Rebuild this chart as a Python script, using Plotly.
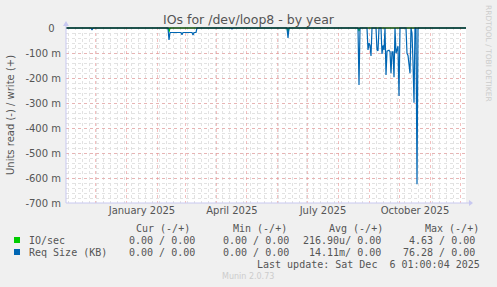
import plotly.graph_objects as go
from datetime import datetime, timedelta

# ---- data (values in milli-units, negative = read) ----
base = datetime(2024, 11, 1, 1, 0)
# day offsets from 2024-11-01 and Req Size (KB) values (m)
req_days = [0, 25, 26, 27,
            102, 103, 104, 115, 116, 117, 126, 127, 128, 130, 131,
            165, 166, 167,
            221, 222, 223,
            292, 293, 294,
            301, 302, 303, 304, 305, 306,
            310, 311, 312, 313,
            315, 316, 317, 318, 319, 320, 321, 322, 323, 324, 325, 326, 327, 328,
            329, 330, 331, 332, 333, 334,
            340, 341, 342, 343, 344, 345, 346, 347, 348, 349, 350, 351, 352,
            400]
req_vals = [0, 0, -8, 0,
            0, -48, -18, -18, -27, -18, -18, -28, -18, -18, 0,
            0, -4, 0,
            0, -40, 0,
            0, -228, 0,
            0, -88, -60, -70, -112, 0,
            0, -88, -91, 0,
            0, -104, -70, -88, 0, -188, -93, -90, -89, -95, -181, -95, -95, -197,
            0, -101, -80, -73, -272, 0,
            0, -101, -110, -141, -181, 0, -20, -138, -299, 0, 0, -625, 0,
            0]
io_days = [0, 102, 103, 104, 221, 222, 223, 292, 293, 294, 400]
io_vals = [0, 0, -15, 0, 0, -18, 0, 0, -12, 0, 0]

zero_days = [0, 400]
zero_vals = [0, 0]

y_ticks = [0, -100, -200, -300, -400, -500, -600, -700]
y_ticktext = ["0\u00a0\u00a0", "-100 m", "-200 m", "-300 m", "-400 m", "-500 m", "-600 m", "-700 m"]
x_label_dates = ["2025-01-16", "2025-04-16", "2025-07-16", "2025-10-16"]
x_label_text = ["January 2025", "April 2025", "July 2025", "October 2025"]

legend_names = ["IO/sec", "Req Size (KB)"]
legend_colors = ["#00cc00", "#0066b3"]
cur_vals = ["0.00 / 0.00", "0.00 / 0.00"]
min_vals = ["0.00 / 0.00", "0.00 / 0.00"]
avg_vals = ["216.90u/ 0.00", "14.11m/ 0.00"]
max_vals = ["4.63 / 0.00", "76.28 / 0.00"]


def d(off):
    return base + timedelta(days=off)


W_FIG, H_FIG = 497, 287
L, PW, T, PH = 66, 400, 27, 176


def px(x):
    return (x - L) / PW


def py(y):
    return (T + PH - y) / PH


fig = go.Figure()
fig.add_trace(go.Scatter(x=[d(o) for o in io_days], y=io_vals, mode="lines",
                         line=dict(color="#00cc00", width=1.2), hoverinfo="skip"))
fig.add_trace(go.Scatter(x=[d(o) for o in req_days], y=req_vals, mode="lines",
                         line=dict(color="#0066b3", width=1.2), hoverinfo="skip"))
fig.add_trace(go.Scatter(x=[d(o) for o in zero_days], y=zero_vals, mode="lines",
                         line=dict(color="#000000", width=1), hoverinfo="skip",
                         xaxis="x2"))

major_grid = "rgba(235,150,150,0.6)"
minor_grid = "#e2e2e2"
rng = [d(0), d(400)]
fig.update_layout(
    width=W_FIG, height=H_FIG,
    margin=dict(l=L, r=W_FIG - L - PW, t=T, b=H_FIG - T - PH, pad=0),
    paper_bgcolor="#f0f0f0", plot_bgcolor="#ffffff",
    showlegend=False,
    font=dict(family="DejaVu Sans", size=10, color="#555555"),
    title=dict(text="IOs for /dev/loop8 - by year", x=0.5, xanchor="center",
               y=1 - 20 / H_FIG, yanchor="middle",
               font=dict(family="DejaVu Sans", size=12.5, color="#555555")),
    xaxis=dict(type="date", range=rng, showticklabels=False, ticks="",
               tick0="2024-12-01", dtick="M1",
               showgrid=True, gridcolor=major_grid, griddash="dot", gridwidth=1,
               minor=dict(dtick=7 * 86400000, tick0="2024-11-04", showgrid=True,
                          gridcolor=minor_grid, griddash="dot", gridwidth=1),
               zeroline=False, showline=False),
    xaxis2=dict(type="date", range=rng, overlaying="x", anchor="y", side="bottom",
                tickvals=x_label_dates, ticktext=x_label_text, ticks="",
                showgrid=False, zeroline=False, showline=False,
                tickfont=dict(family="DejaVu Sans", size=10, color="#555555")),
    yaxis=dict(range=[-700, 4], tickvals=y_ticks, ticktext=y_ticktext, ticks="",
               ticklabelstandoff=4,
               showgrid=True, gridcolor=major_grid, griddash="dot", gridwidth=1,
               minor=dict(dtick=20, showgrid=True, gridcolor=minor_grid, griddash="dot", gridwidth=1),
               zeroline=False, showline=False,
               tickfont=dict(family="DejaVu Sans", size=10, color="#555555")),
)

axis_col = "#c8c8f0"
shapes = [
    dict(type="line", xref="paper", yref="paper", x0=px(66), x1=px(469), y0=py(203), y1=py(203),
         line=dict(color=axis_col, width=1)),
    dict(type="line", xref="paper", yref="paper", x0=px(66), x1=px(66), y0=py(203), y1=py(23),
         line=dict(color=axis_col, width=1)),
    dict(type="path", xref="paper", yref="paper",
         path=f"M {px(469)} {py(200)} L {px(473)} {py(203)} L {px(469)} {py(206)} Z",
         fillcolor=axis_col, line=dict(width=0)),
    dict(type="path", xref="paper", yref="paper",
         path=f"M {px(63)} {py(26)} L {px(66)} {py(21)} L {px(69)} {py(26)} Z",
         fillcolor=axis_col, line=dict(width=0)),
]
for i, c in enumerate(legend_colors):
    yc = 240 + 12 * i
    shapes.append(dict(type="rect", xref="paper", yref="paper",
                       x0=px(14), x1=px(20), y0=py(yc + 3), y1=py(yc - 3),
                       fillcolor=c, line=dict(width=0)))
fig.update_layout(shapes=shapes)

mono = dict(family="DejaVu Sans Mono", size=10, color="#555555")
ann = []


def text(x, y, s, anchor="left", font=mono, angle=0):
    ann.append(dict(x=px(x), y=py(y), xref="paper", yref="paper", text=s, showarrow=False,
                    xanchor=anchor, yanchor="middle", font=font, textangle=angle))


text(10, 115, "Units read (-) / write (+)", anchor="center",
     font=dict(family="DejaVu Sans", size=10, color="#555555"), angle=-90)
text(489, 53, "RRDTOOL / TOBI OETIKER", anchor="center",
     font=dict(family="DejaVu Sans", size=7.5, color="#cccccc"), angle=90)

text(134, 228, "Cur (-/+)")
text(231, 228, "Min (-/+)")
text(327, 228, "Avg (-/+)")
text(423, 228, "Max (-/+)")
for i in range(2):
    yc = 240 + 12 * i
    text(27, yc, legend_names[i])
    text(197, yc, cur_vals[i], anchor="right")
    text(291, yc, min_vals[i], anchor="right")
    text(383, yc, avg_vals[i], anchor="right")
    text(477, yc, max_vals[i], anchor="right")
text(482, 264, "Last update: Sat Dec\u00a0\u00a06 01:00:04 2025", anchor="right")
text(248, 276, "Munin 2.0.73", anchor="center",
     font=dict(family="DejaVu Sans", size=8, color="#cccccc"))
fig.update_layout(annotations=ann)

fig.write_html("out.html")
